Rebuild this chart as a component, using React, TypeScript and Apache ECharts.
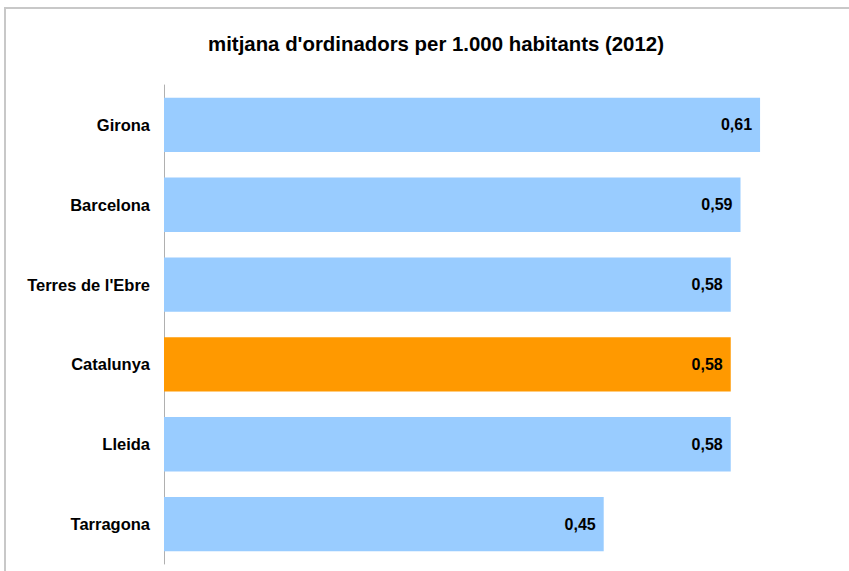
import React, { useEffect, useRef } from "react";
import * as echarts from "echarts";

const categories = ["Girona", "Barcelona", "Terres de l'Ebre", "Catalunya", "Lleida", "Tarragona"];
const values = [0.61, 0.59, 0.58, 0.58, 0.58, 0.45];
const highlight = "Catalunya";
const titleText = "mitjana d'ordinadors per 1.000 habitants (2012)";

const FONT = "'Liberation Sans', Arial, sans-serif";

export default function App() {
  const ref = useRef<HTMLDivElement>(null);
  useEffect(() => {
    if (!ref.current) return;
    const chart = echarts.init(ref.current, undefined, { renderer: "svg" });
    chart.setOption({
      animation: false,
      backgroundColor: "#ffffff",
      title: {
        text: titleText,
        left: 431,
        textAlign: "center",
        top: 29,
        textStyle: { fontFamily: FONT, fontSize: 20.4, fontWeight: "bold", color: "#000" },
      },
      graphic: [
        {
          type: "rect",
          shape: { x: 5, y: 8, width: 900, height: 700 },
          style: { fill: "none", stroke: "#c8c8c8", lineWidth: 2 },
          silent: true,
        },
      ],
      grid: { left: 164, right: 1, top: 85, bottom: 7, containLabel: false },
      xAxis: {
        type: "value",
        min: 0,
        max: 0.7,
        show: false,
      },
      yAxis: {
        type: "category",
        inverse: true,
        data: categories,
        axisLine: { show: true, lineStyle: { color: "#b0b0b0", width: 1 } },
        axisTick: { show: false },
        axisLabel: {
          margin: 14,
          fontFamily: FONT,
          fontSize: 16.5,
          fontWeight: "bold",
          color: "#000",
        },
      },
      series: [
        {
          type: "bar",
          data: values.map((v, i) => ({
            value: v,
            itemStyle: { color: categories[i] === highlight ? "#ff9900" : "#99ccff" },
          })),
          barCategoryGap: "32%",
          label: {
            show: true,
            position: "insideRight",
            distance: 8,
            formatter: (p: any) => p.value.toFixed(2).replace(".", ","),
            fontFamily: FONT,
            fontSize: 16,
            fontWeight: "bold",
            color: "#000",
          },
        },
      ],
    });
    return () => chart.dispose();
  }, []);
  return <div ref={ref} style={{ position: "fixed", left: 0, top: 0, width: 849, height: 571 }} />;
}
